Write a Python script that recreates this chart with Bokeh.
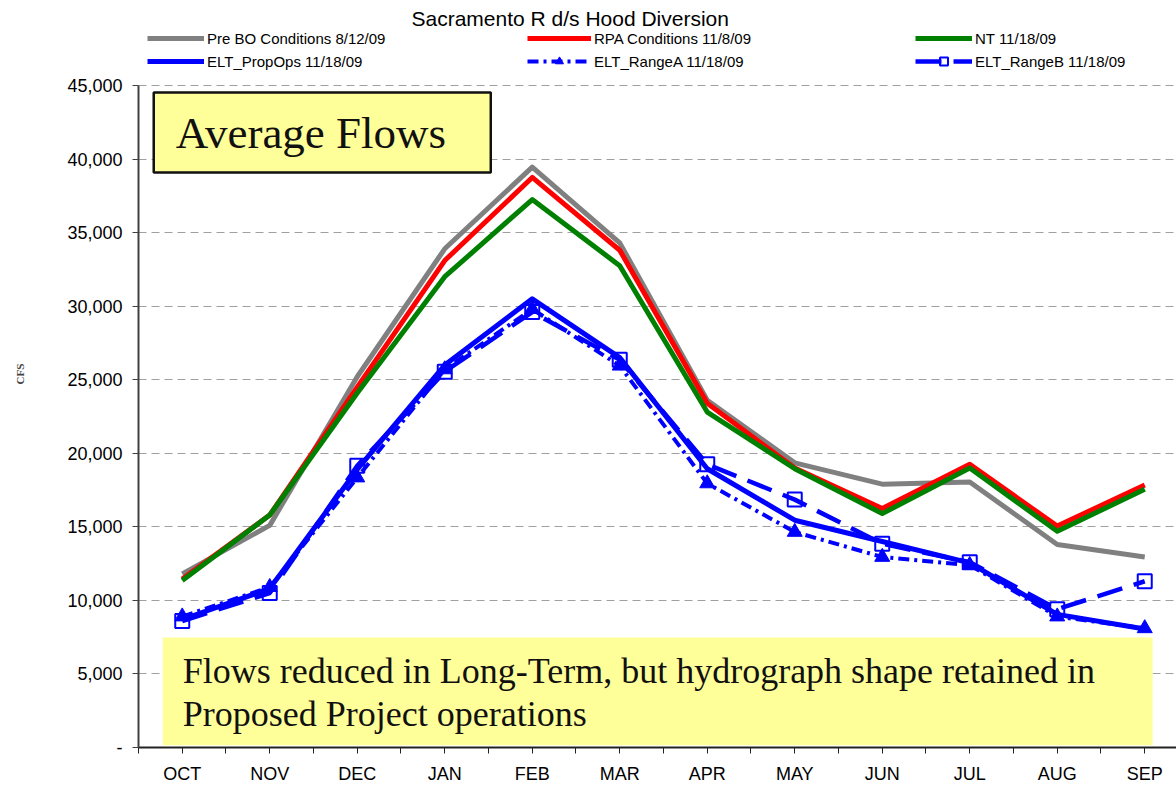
from bokeh.plotting import figure
from bokeh.models import (ColumnDataSource, Range1d, FixedTicker, NumeralTickFormatter,
                          Legend, LegendItem, BoxAnnotation, Label)
from bokeh.embed import file_html
from bokeh.resources import INLINE

# ---------------- data ----------------
months = ["OCT", "NOV", "DEC", "JAN", "FEB", "MAR", "APR", "MAY", "JUN", "JUL", "AUG", "SEP"]
pre_bo = [11800, 15100, 25200, 33900, 39450, 34300, 23600, 19350, 17900, 18050, 13800, 12950]
rpa = [11450, 15800, 24500, 33100, 38750, 33800, 23400, 19000, 16250, 19250, 15050, 17850]
nt = [11350, 15800, 24100, 32000, 37250, 32750, 22800, 18950, 15900, 19000, 14700, 17550]
prop_ops = [8700, 10800, 18900, 26000, 30500, 26500, 18950, 15450, 14000, 12550, 9050, 8050]
range_a = [8900, 10900, 18350, 25700, 29800, 25950, 17950, 14650, 12950, 12400, 8900, 8100]
range_b = [8600, 10500, 19150, 25550, 29600, 26350, 19250, 16850, 13850, 12600, 9400, 11300]
y_ticks = [0, 5000, 10000, 15000, 20000, 25000, 30000, 35000, 40000, 45000]

title_text = "Sacramento R d/s Hood Diversion"
labels = ["Pre BO Conditions 8/12/09", "RPA Conditions 11/8/09", "NT 11/18/09",
          "ELT_PropOps 11/18/09", "ELT_RangeA 11/18/09", "ELT_RangeB 11/18/09"]

idx = list(range(len(months)))
src = ColumnDataSource(dict(x=idx, m=months, pre=pre_bo, rpa=rpa, nt=nt,
                            prop=prop_ops, ra=range_a, rb=range_b))

SANS = "Liberation Sans"
SERIF = "Liberation Serif"
BLUE = "#0000FF"

Y_MAX = y_ticks[-1]
# frame runs to the top edge so the legend/title (drawn in the frame) are not clipped;
# 45,000 sits 85px below the top, 662px above the x axis
Y_TOP = Y_MAX * 747 / 662

p = figure(width=1176, height=786, output_backend="svg", toolbar_location=None,
           x_range=Range1d(-0.5, 11.363), y_range=Range1d(0, Y_TOP),
           min_border_left=138, min_border_right=0, min_border_top=0, min_border_bottom=39)
p.outline_line_color = None
p.background_fill_color = "white"
p.border_fill_color = "white"

# axes
p.xaxis.ticker = FixedTicker(ticks=idx, minor_ticks=[i - 0.5 for i in range(len(months) + 1)])
p.xaxis.major_label_overrides = {i: m for i, m in zip(idx, months)}
p.xaxis.major_label_text_font = SANS
p.xaxis.major_label_text_font_size = "18px"
p.xaxis.major_label_text_color = "black"
p.xaxis.major_label_standoff = 10
p.xaxis.major_tick_in = 0
p.xaxis.major_tick_out = 6
p.xaxis.minor_tick_in = 0
p.xaxis.minor_tick_out = 6
p.xaxis.axis_line_color = "#222222"
p.xaxis.axis_line_width = 2
p.xaxis.major_tick_line_color = "#222222"
p.xaxis.minor_tick_line_color = "#222222"

p.yaxis.ticker = FixedTicker(ticks=y_ticks)
p.yaxis.bounds = (0, Y_MAX)
p.yaxis.formatter = NumeralTickFormatter(format="0,0")
p.yaxis.major_label_overrides = {0: "-"}
p.yaxis.major_label_text_font = SANS
p.yaxis.major_label_text_font_size = "18px"
p.yaxis.major_label_text_color = "black"
p.yaxis.major_label_standoff = 10
p.yaxis.major_tick_in = 0
p.yaxis.major_tick_out = 6
p.yaxis.minor_tick_line_color = None
p.yaxis.axis_line_color = "#404040"
p.yaxis.axis_line_width = 2
p.yaxis.major_tick_line_color = "#404040"
p.yaxis.axis_label = "CFS"
p.yaxis.axis_label_text_font = SERIF
p.yaxis.axis_label_text_font_style = "bold"
p.yaxis.axis_label_text_font_size = "11px"
p.yaxis.axis_label_standoff = 38

p.xgrid.grid_line_color = None
p.ygrid.grid_line_color = "#a0a0a0"
p.ygrid.grid_line_dash = "8 5"
p.ygrid.grid_line_width = 1

# series
r_pre = p.line("x", "pre", source=src, line_color="#808080", line_width=5, line_join="round")
r_rpa = p.line("x", "rpa", source=src, line_color="#FF0000", line_width=5, line_join="round")
r_nt = p.line("x", "nt", source=src, line_color="#008000", line_width=5, line_join="round")
r_prop = p.line("x", "prop", source=src, line_color=BLUE, line_width=5, line_join="round")
r_ra = p.line("x", "ra", source=src, line_color=BLUE, line_width=4, line_dash="11 5 3 5")
r_ra_m = p.scatter("x", "ra", source=src, marker="triangle", size=15,
                   fill_color=BLUE, line_color=BLUE, line_width=1)
r_rb = p.line("x", "rb", source=src, line_color=BLUE, line_width=4.5, line_dash="26 12")
r_rb_m = p.scatter("x", "rb", source=src, marker="square", size=14,
                   fill_color=None, line_color=BLUE, line_width=2)

# legends (3 columns x 2 rows), placed above the 45,000 line
def mk_legend(items, x, gw):
    lg = Legend(items=items, location=(x, 676), orientation="vertical",
                glyph_width=gw, glyph_height=20, label_height=20, label_standoff=3,
                spacing=3, padding=0, margin=0, border_line_color=None,
                background_fill_alpha=0, label_text_font=SANS,
                label_text_font_size="15px", label_text_color="black")
    p.add_layout(lg)

mk_legend([LegendItem(label=labels[0], renderers=[r_pre]),
           LegendItem(label=labels[3], renderers=[r_prop])], 9, 57)
mk_legend([LegendItem(label=labels[1], renderers=[r_rpa]),
           LegendItem(label=labels[4], renderers=[r_ra, r_ra_m])], 389, 64)
mk_legend([LegendItem(label=labels[2], renderers=[r_nt]),
           LegendItem(label=labels[5], renderers=[r_rb, r_rb_m])], 777, 57)

# title
p.add_layout(Label(x=4.434, y=Y_MAX * (747 - 18) / 662, text=title_text, text_align="center",
                   text_baseline="middle", text_font=SANS, text_font_size="21px",
                   text_color="black"))

# annotation boxes
p.add_layout(BoxAnnotation(left=-0.326, right=3.526, top=44520, bottom=39090,
                           fill_color="#FFFF99", fill_alpha=1.0,
                           line_color="#111111", line_alpha=1.0, line_width=2.5))
p.add_layout(Label(x=-0.074, y=41771, text="Average Flows", text_align="left",
                   text_baseline="middle", text_font=SERIF, text_font_size="45px",
                   text_color="#111111"))

p.add_layout(BoxAnnotation(left=-0.223, right=11.09, top=7477, bottom=150,
                           fill_color="#FFFF99", fill_alpha=1.0, line_color=None))
p.add_layout(Label(x=0.006, y=5234,
                   text="Flows reduced in Long-Term, but hydrograph shape retained in",
                   text_align="left", text_baseline="middle", text_font=SERIF,
                   text_font_size="36px", text_color="#111111"))
p.add_layout(Label(x=0.006, y=2311, text="Proposed Project operations",
                   text_align="left", text_baseline="middle", text_font=SERIF,
                   text_font_size="36px", text_color="#111111"))

open("out.html", "w").write(file_html(p, INLINE))
